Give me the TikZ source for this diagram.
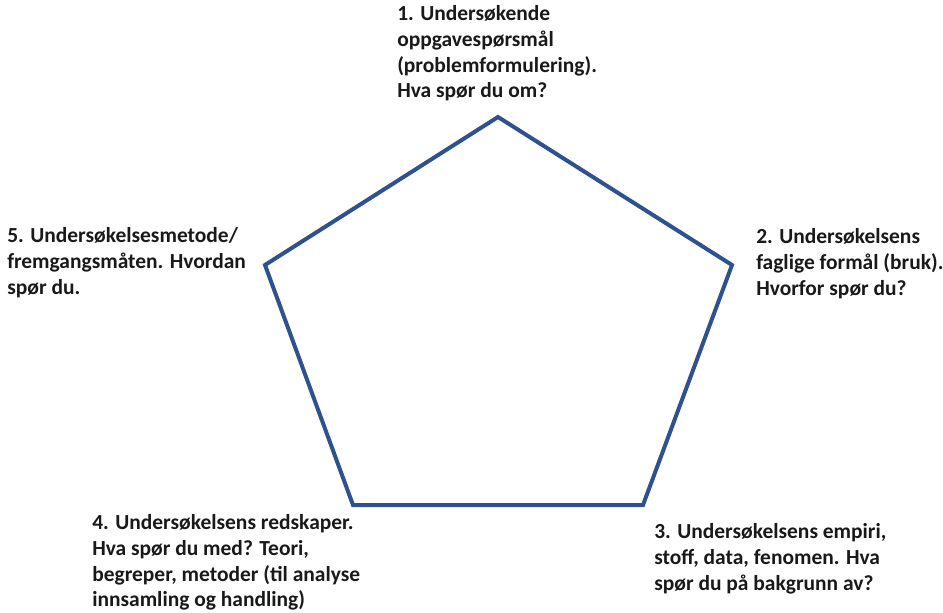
\documentclass[tikz,border=0pt]{standalone}
\usepackage{fontspec}
\setmainfont{Carlito}
\definecolor{edgeblue}{RGB}{47,82,143}
\begin{document}
\begin{tikzpicture}[x=0.75pt,y=-0.75pt,
  label/.style={anchor=north west,inner sep=0pt,align=left,
    font=\fontsize{16.1pt}{19.4pt}\selectfont\bfseries,text=black!90},
  edge/.style={draw=edgeblue,line width=3pt,line join=miter}]
\useasboundingbox (0,0) rectangle (943,613);
% corners of the pentagon
\coordinate (p1) at (498,117);
\coordinate (p2) at (732,265);
\coordinate (p3) at (643,505);
\coordinate (p4) at (353,505);
\coordinate (p5) at (265,265);
\draw[edge] (p1) -- (p2) -- (p3) -- (p4) -- (p5) -- cycle;
% labels at the corners
\node[label] (t1) at (397,5) {1. Undersøkende\\oppgavespørsmål\\(problemformulering).\\Hva spør du om?};
\node[label] (t2) at (756,228) {2. Undersøkelsens\\faglige formål (bruk).\\Hvorfor spør du?};
\node[label] (t3) at (654,523) {3. Undersøkelsens empiri,\\stoff, data, fenomen. Hva\\spør du på bakgrunn av?};
\node[label] (t4) at (92,514) {4. Undersøkelsens redskaper.\\Hva spør du med? Teori,\\begreper, metoder (til analyse\\innsamling og handling)};
\node[label] (t5) at (7,227) {5. Undersøkelsesmetode/\\fremgangsmåten. Hvordan\\spør du.};
\end{tikzpicture}
\end{document}
